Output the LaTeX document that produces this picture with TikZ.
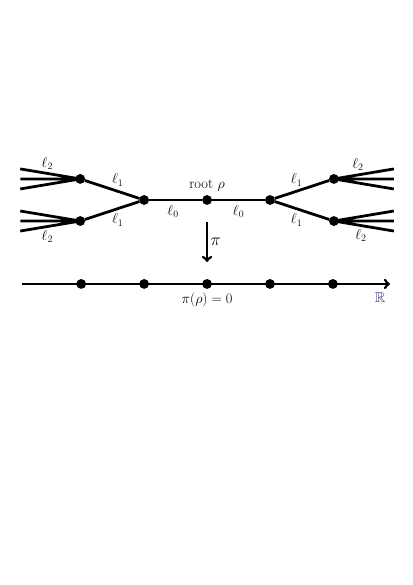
\documentclass[tikz,border=0pt]{standalone}
\usepackage{amssymb}
\usepackage{xcolor}
\usetikzlibrary{arrows,calc,positioning}
\definecolor{rcol}{rgb}{0.22, 0.22, 0.5}

\begin{document}
\begin{tikzpicture}[line width=4pt,place/.style={circle,fill,inner sep=0pt,outer sep=0pt,minimum size=0.5cm},
  lab/.style={font=\fontsize{21}{24}\selectfont}]
        \useasboundingbox (-10.53,10.17) rectangle (10.47,-19.58);
        %%%%%%%%%%%%%%%%%%%%%%%%%%%tree%%%%%%%%%%%%%%%%%%%%%%
          \node (0) at (0,0)   [place] {};
          \node (1) at (-3.2,0)   [place] {};
          \node (2) at (3.2,0)   [place] {};
          \node (3) at (-6.45,1.07)   [place] {};
          \node (4) at (-6.45,-1.07)   [place] {};
          \node (5) at (6.45,1.07)   [place] {};
          \node (6) at (6.45,-1.07)   [place] {};
          \node[lab,above=0.02cm of 0] (root) {root $\rho$};

          % leaves
          \coordinate (3a) at (-9.5,1.58);
          \coordinate (3b) at (-9.5,1.07);
          \coordinate (3c) at (-9.5,0.56);
          \coordinate (4a) at (-9.5,-0.56);
          \coordinate (4b) at (-9.5,-1.07);
          \coordinate (4c) at (-9.5,-1.58);
          \coordinate (5a) at (9.5,1.58);
          \coordinate (5b) at (9.5,1.07);
          \coordinate (5c) at (9.5,0.56);
          \coordinate (6a) at (9.5,-0.56);
          \coordinate (6b) at (9.5,-1.07);
          \coordinate (6c) at (9.5,-1.58);

          \draw (0) -- node[lab,pos=0.55,below=0.08cm]{$\ell_0$} (1);
          \draw (0) -- node[lab,pos=0.5,below=0.08cm]{$\ell_0$} (2);
          \draw (1) -- node[lab,pos=0.4,above=0.08cm]{$\ell_1$} (3);
          \draw (1) -- node[lab,pos=0.4,below=0.08cm]{$\ell_1$} (4);
          \draw (2) -- node[lab,pos=0.4,above=0.08cm]{$\ell_1$} (5);
          \draw (2) -- node[lab,pos=0.4,below=0.08cm]{$\ell_1$} (6);

          \draw (3.center) -- node[lab,pos=0.55,above=0.02cm]{$\ell_2$} (3a)
                (3.center) -- (3b) (3.center) -- (3c);
          \draw (4.center) -- (4a) (4.center) -- (4b)
                (4.center) -- node[lab,pos=0.55,below=0.02cm]{$\ell_2$} (4c);
          \draw (5.center) -- node[lab,pos=0.4,above=0.02cm]{$\ell_2$} (5a)
                (5.center) -- (5b) (5.center) -- (5c);
          \draw (6.center) -- (6a) (6.center) -- (6b)
                (6.center) -- node[lab,pos=0.45,below=0.02cm]{$\ell_2$} (6c);

        %%%%%%%%%%%%%%%%%%%%%%%%%%%line%%%%%%%%%%%%%%%%%%%%%%
          \coordinate (ra) at (-9.41,-4.27);
          \coordinate (rb) at (9.3,-4.27);
          \node (p0) at (0,-4.27)   [place] {};
          \node (p1) at (-3.2,-4.27)   [place] {};
          \node (p2) at (3.2,-4.27)   [place] {};
          \node (p3) at (-6.4,-4.27)   [place] {};
          \node (p4) at (6.4,-4.27)   [place] {};
          \draw [->](ra) -- (rb);
          \node[lab,below=0.02cm of p0] (img) {$\pi(\rho)=0$};
          \node[lab,text=rcol] (R) at (8.8,-4.98) {$\mathbb{R}$};

          \coordinate (pa) at (0,-1.12);
          \coordinate (pb) at (0,-3.15);
          \draw [->](pa) -- node[lab,right,font=\fontsize{25}{28}\selectfont]{$\pi$} (pb);
        \end{tikzpicture}
\end{document}
